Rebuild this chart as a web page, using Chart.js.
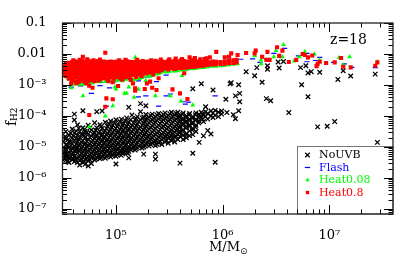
<!DOCTYPE html>
<html>
<head>
<meta charset="utf-8">
<style>
  html, body { margin: 0; padding: 0; background: #fff; }
  canvas { display: block; }
</style>
<script src="https://cdn.jsdelivr.net/npm/chart.js@4/dist/chart.umd.min.js"></script>
</head>
<body>
<canvas id="chart" width="415" height="263"></canvas>
<script>
// All values below are log10(M/Msun), log10(fH2)
const seriesNames = ['NoUVB', 'Flash', 'Heat0.08', 'Heat0.8'];
const seriesColors = ['#000000', '#0000ff', '#00ff00', '#ff0000'];
const xTickLabels = { 5: '10⁵', 6: '10⁶', 7: '10⁷' };
const yTickLabels = { '-1': '0.1', '-2': '0.01', '-3': '10⁻³', '-4': '10⁻⁴', '-5': '10⁻⁵', '-6': '10⁻⁶', '-7': '10⁻⁷' };

// dense black cloud, one list of fH2 per mass column
const noUvbColumns = [
  [4.51, [-4.82, -5.02, -5.2]],
  [4.53, [-4.5, -4.72, -4.93, -5.12, -5.3, -5.43]],
  [4.56, [-4.62, -4.84, -5.0, -5.17, -5.36, -5.5]],
  [4.59, [-4.42, -4.7, -4.9, -5.06, -5.24, -5.41]],
  [4.61, [-3.94, -4.13, -4.55, -4.78, -4.97, -5.13, -5.3, -5.47]],
  [4.64, [-4.28, -4.62, -4.82, -5.02, -5.19, -5.36, -5.5]],
  [4.66, [-4.5, -4.7, -4.9, -5.08, -5.26, -5.44, -5.58]],
  [4.69, [-3.83, -4.38, -4.61, -4.8, -4.98, -5.15, -5.33, -5.5]],
  [4.71, [-4.5, -4.7, -4.88, -5.05, -5.22, -5.4, -5.56]],
  [4.74, [-4.3, -4.58, -4.76, -4.94, -5.12, -5.3, -5.45, -5.61]],
  [4.77, [-4.45, -4.65, -4.84, -5.02, -5.2, -5.36, -5.53]],
  [4.8, [-4.22, -4.54, -4.72, -4.92, -5.1, -5.27, -5.42]],
  [4.82, [-3.86, -4.38, -4.62, -4.8, -4.99, -5.16, -5.33]],
  [4.85, [-4.28, -4.5, -4.7, -4.88, -5.07, -5.24, -5.38]],
  [4.87, [-3.84, -4.4, -4.6, -4.78, -4.96, -5.13, -5.3]],
  [4.9, [-4.2, -4.48, -4.67, -4.85, -5.03, -5.2, -5.36]],
  [4.92, [-4.33, -4.56, -4.75, -4.93, -5.1, -5.27]],
  [4.95, [-4.16, -4.44, -4.63, -4.82, -5.0, -5.18, -5.32]],
  [4.97, [-4.3, -4.52, -4.71, -4.9, -5.07, -5.24]],
  [5.0, [-4.12, -4.4, -4.6, -4.78, -4.97, -5.14, -5.3, -5.55]],
  [5.02, [-4.27, -4.49, -4.68, -4.86, -5.04, -5.2]],
  [5.05, [-4.1, -4.36, -4.56, -4.75, -4.94, -5.12, -5.27]],
  [5.07, [-4.24, -4.45, -4.65, -4.84, -5.02, -5.17]],
  [5.1, [-4.06, -4.33, -4.53, -4.72, -4.91, -5.08, -5.19]],
  [5.12, [-3.72, -4.2, -4.42, -4.62, -4.8, -5.0, -5.14, -5.35]],
  [5.15, [-3.97, -4.3, -4.5, -4.7, -4.88, -5.05]],
  [5.18, [-4.12, -4.38, -4.58, -4.78, -4.97, -5.1]],
  [5.2, [-4.02, -4.26, -4.47, -4.66, -4.85, -5.02]],
  [5.23, [-3.6, -3.86, -4.13, -4.36, -4.56, -4.75, -4.94]],
  [5.26, [-4.03, -4.24, -4.44, -4.64, -4.82, -5.0, -5.23]],
  [5.28, [-3.67, -3.95, -4.13, -4.34, -4.54, -4.72, -4.9]],
  [5.31, [-4.03, -4.22, -4.42, -4.62, -4.8, -4.97]],
  [5.34, [-3.94, -4.12, -4.32, -4.52, -4.7, -4.88]],
  [5.37, [-4.02, -4.2, -4.4, -4.6, -4.8, -4.95, -5.23, -5.39]],
  [5.4, [-3.92, -4.1, -4.3, -4.5, -4.68, -4.86]],
  [5.43, [-4.0, -4.18, -4.38, -4.58, -4.76, -4.92]],
  [5.46, [-3.9, -4.08, -4.28, -4.47, -4.66, -4.84]],
  [5.49, [-3.98, -4.16, -4.36, -4.56, -4.72, -4.88]],
  [5.52, [-3.88, -4.06, -4.25, -4.45, -4.63, -4.8]],
  [5.55, [-3.96, -4.14, -4.34, -4.52, -4.68, -4.84]],
  [5.58, [-3.88, -4.05, -4.23, -4.42, -4.6, -4.76]],
  [5.6, [-3.98, -4.15, -4.32, -4.5, -4.66, -5.52]],
  [5.63, [-3.9, -4.08, -4.24, -4.44, -4.62, -4.76]],
  [5.66, [-4.0, -4.16, -4.34, -4.56, -4.7]],
  [5.69, [-3.92, -4.1, -4.28, -4.48, -4.64]],
  [5.72, [-3.12, -4.02, -4.2, -4.4, -4.6, -5.2]],
  [5.75, [-3.9, -4.1, -4.3, -4.5]],
  [5.78, [-3.95, -4.16, -4.85]],
  [5.8, [-2.96, -3.88, -4.03]],
  [5.82, [-3.98, -4.18, -4.64]],
  [5.84, [-3.7, -3.86, -4.02]],
  [5.86, [-3.92, -4.1, -4.47]],
  [5.89, [-3.84, -4.0, -4.58]],
  [5.91, [-3.16, -3.9, -4.05]],
  [5.93, [-3.82, -3.98, -5.49]],
  [5.96, [-3.88, -4.02]],
  [5.99, [-3.84, -3.94]]
];
// second pass over the cloud, points between the ones above
const noUvbFillColumns = [
  [4.525, [-4.66, -5.07, -5.24, -5.38]],
  [4.548, [-4.77, -4.96, -5.28, -5.45]],
  [4.575, [-4.55, -4.83, -5.11, -5.31]],
  [4.602, [-4.65, -5.03, -5.2, -5.38]],
  [4.627, [-4.48, -4.72, -4.91, -5.09, -5.41]],
  [4.652, [-4.4, -4.77, -4.96, -5.13, -5.32]],
  [4.678, [-4.58, -4.85, -5.03, -5.21, -5.39]],
  [4.703, [-4.44, -4.64, -4.93, -5.11, -5.29, -5.47]],
  [4.728, [-4.53, -4.82, -5.0, -5.17, -5.35]],
  [4.755, [-4.39, -4.69, -4.9, -5.07, -5.25, -5.41]],
  [4.783, [-4.58, -4.78, -4.97, -5.14, -5.31]],
  [4.81, [-4.46, -4.66, -4.86, -5.04, -5.21, -5.38]],
  [4.836, [-4.55, -4.74, -4.93, -5.11, -5.28]],
  [4.861, [-4.34, -4.64, -4.82, -5.01, -5.18, -5.34]],
  [4.885, [-4.52, -4.71, -4.9, -5.08, -5.25]],
  [4.911, [-4.4, -4.6, -4.79, -4.97, -5.14, -5.31]],
  [4.935, [-4.25, -4.49, -4.69, -4.87, -5.05, -5.22]],
  [4.96, [-4.37, -4.57, -4.77, -4.95, -5.12, -5.27]],
  [4.985, [-4.22, -4.46, -4.65, -4.84, -5.03, -5.2]],
  [5.012, [-4.34, -4.54, -4.73, -4.91, -5.09, -5.25]],
  [5.037, [-4.18, -4.43, -4.62, -4.81, -4.99, -5.17]],
  [5.062, [-4.31, -4.5, -4.7, -4.89, -5.07, -5.22]],
  [5.086, [-4.15, -4.39, -4.59, -4.78, -4.96, -5.13]],
  [5.112, [-4.27, -4.47, -4.67, -4.85, -5.04, -5.2]],
  [5.138, [-4.12, -4.36, -4.56, -4.75, -4.93, -5.09]],
  [5.165, [-4.22, -4.44, -4.64, -4.83, -5.0]],
  [5.19, [-4.08, -4.32, -4.52, -4.72, -4.91, -5.06]],
  [5.215, [-4.19, -4.41, -4.61, -4.8, -4.98]],
  [5.245, [-4.06, -4.29, -4.5, -4.69, -4.87, -5.03]],
  [5.27, [-4.18, -4.39, -4.59, -4.77, -4.95]],
  [5.295, [-4.08, -4.28, -4.48, -4.67, -4.85]],
  [5.325, [-3.98, -4.17, -4.37, -4.57, -4.75, -4.92]],
  [5.355, [-4.07, -4.26, -4.46, -4.65, -4.83]],
  [5.385, [-3.97, -4.15, -4.35, -4.55, -4.74, -4.91]],
  [5.415, [-4.05, -4.24, -4.44, -4.63, -4.81]],
  [5.445, [-3.95, -4.13, -4.33, -4.53, -4.71]],
  [5.475, [-4.03, -4.22, -4.42, -4.6, -4.78]],
  [5.505, [-3.93, -4.11, -4.31, -4.5, -4.68]],
  [5.535, [-4.01, -4.19, -4.39, -4.57, -4.72]],
  [5.565, [-3.92, -4.1, -4.29, -4.47, -4.65]],
  [5.595, [-4.03, -4.2, -4.37, -4.55]],
  [5.625, [-3.95, -4.13, -4.3, -4.49]],
  [5.655, [-4.05, -4.21, -4.39, -4.6]],
  [5.685, [-3.97, -4.15, -4.33]],
  [5.715, [-4.07, -4.25, -4.45]],
  [5.745, [-3.96, -4.15, -4.36]],
  [5.775, [-4.05, -4.22]],
  [5.81, [-3.93, -4.1]]
];
// black points away from the cloud
const noUvbOutliers = [
  [6.22, -2.57], [6.30, -2.70], [6.32, -2.44], [6.42, -2.38], [6.42, -2.49], [6.52, -2.26], [6.53, -2.45],
  [6.57, -2.24], [6.73, -2.44], [6.78, -2.38], [6.80, -2.61], [6.83, -2.57], [6.91, -2.59], [7.08, -2.82],
  [7.13, -2.54], [7.20, -2.71], [7.43, -2.65], [6.08, -2.93], [6.07, -2.96], [6.15, -2.99], [6.37, -2.91],
  [6.74, -2.99], [6.12, -3.35], [6.16, -3.27], [6.03, -3.46], [6.16, -3.54], [6.41, -3.44], [6.45, -3.51],
  [6.80, -3.38], [6.15, -3.83], [6.62, -3.89], [6.10, -3.96], [6.12, -4.09], [6.04, -3.89], [6.89, -4.35],
  [6.98, -4.33], [7.05, -4.18], [7.45, -4.85]
];

// red band, one list of fH2 per mass column
const heat08Columns = [
  [4.5, [-2.4, -2.52, -2.62]],
  [4.53, [-2.32, -2.43, -2.54, -2.65, -2.72]],
  [4.56, [-2.28, -2.38, -2.49, -2.6, -2.7, -2.8]],
  [4.59, [-2.26, -2.36, -2.46, -2.57, -2.67, -2.78, -2.86]],
  [4.62, [-2.24, -2.34, -2.45, -2.55, -2.66, -2.76, -2.88]],
  [4.65, [-2.26, -2.36, -2.46, -2.57, -2.67, -2.78, -2.9]],
  [4.68, [-2.21, -2.32, -2.43, -2.54, -2.65, -2.76, -2.86]],
  [4.71, [-2.24, -2.35, -2.46, -2.57, -2.68, -2.79, -2.9]],
  [4.74, [-2.22, -2.33, -2.44, -2.55, -2.66, -2.77, -2.87]],
  [4.77, [-2.24, -2.35, -2.46, -2.57, -2.68, -2.79, -2.84]],
  [4.8, [-2.25, -2.36, -2.47, -2.58, -2.69, -2.8, -2.88]],
  [4.83, [-2.23, -2.34, -2.45, -2.56, -2.67, -2.78]],
  [4.86, [-2.25, -2.36, -2.47, -2.58, -2.69, -2.8]],
  [4.89, [-2.24, -2.35, -2.46, -2.57, -2.68, -2.78]],
  [4.92, [-2.26, -2.37, -2.48, -2.59, -2.7, -2.82]],
  [4.95, [-2.24, -2.35, -2.46, -2.57, -2.68, -2.76]],
  [4.98, [-2.26, -2.37, -2.48, -2.59, -2.7, -2.8]],
  [5.01, [-2.24, -2.35, -2.46, -2.57, -2.68, -2.74]],
  [5.04, [-2.26, -2.37, -2.48, -2.59, -2.7, -2.78]],
  [5.07, [-2.25, -2.36, -2.47, -2.58, -2.68, -2.76]],
  [5.1, [-2.23, -2.34, -2.45, -2.56, -2.67, -2.74]],
  [5.13, [-2.25, -2.36, -2.47, -2.58, -2.68, -2.78]],
  [5.16, [-2.26, -2.37, -2.48, -2.59, -2.68]],
  [5.19, [-2.24, -2.35, -2.46, -2.57, -2.66, -2.74]],
  [5.22, [-2.26, -2.37, -2.48, -2.58, -2.66]],
  [5.25, [-2.23, -2.34, -2.45, -2.55, -2.64]],
  [5.28, [-2.25, -2.36, -2.47, -2.58, -2.63]],
  [5.31, [-2.24, -2.35, -2.46, -2.56, -2.6]],
  [5.34, [-2.26, -2.37, -2.48, -2.58]],
  [5.37, [-2.22, -2.33, -2.44, -2.55]],
  [5.4, [-2.25, -2.36, -2.47, -2.56]],
  [5.43, [-2.24, -2.35, -2.46, -2.52]],
  [5.46, [-2.26, -2.37, -2.47]],
  [5.49, [-2.23, -2.34, -2.45, -2.5]],
  [5.52, [-2.25, -2.36, -2.46]],
  [5.55, [-2.22, -2.33, -2.44, -2.48]],
  [5.58, [-2.24, -2.35, -2.45]],
  [5.61, [-2.2, -2.31, -2.42, -2.46]],
  [5.64, [-2.23, -2.34, -2.44]],
  [5.67, [-2.25, -2.35, -2.43]],
  [5.7, [-2.18, -2.29, -2.39, -2.42]],
  [5.73, [-2.21, -2.32, -2.41]],
  [5.76, [-2.24, -2.34, -2.4]],
  [5.79, [-2.17, -2.28, -2.38]],
  [5.82, [-2.25, -2.33, -2.38]],
  [5.85, [-2.14, -2.26, -2.35]],
  [5.88, [-2.11, -2.27, -2.34]],
  [5.91, [-2.24, -2.33]],
  [5.94, [-1.93, -2.25, -2.33]],
  [5.98, [-2.26, -2.32]],
  [6.02, [-2.11, -2.24, -2.31]],
  [6.06, [-2.09, -2.22, -2.3]],
  [6.1, [-2.2, -2.29]],
  [6.13, [-2.19, -2.27]]
];
const heat08Outliers = [
  [4.90, -1.96], [4.69, -2.09], [4.58, -2.95], [4.75, -3.02], [4.78, -3.09], [4.91, -3.43], [4.97, -3.46],
  [4.90, -3.70], [4.75, -3.97], [4.97, -2.91], [5.02, -3.03], [5.16, -2.95], [5.18, -3.11], [5.18, -3.18],
  [5.27, -3.13], [5.32, -2.89], [5.29, -2.95], [5.40, -2.78], [5.34, -3.09], [5.38, -3.16], [5.53, -3.14],
  [5.60, -3.27], [5.67, -3.45], [5.64, -2.62], [5.69, -2.11], [6.08, -1.98], [6.14, -2.03], [6.22, -1.97],
  [6.31, -1.89], [6.30, -1.98], [6.37, -2.09], [6.42, -1.93], [6.41, -2.19], [6.44, -2.19], [6.51, -1.78],
  [6.56, -1.89], [6.53, -2.06], [6.62, -2.26], [6.69, -2.19], [6.75, -2.0], [6.77, -2.03], [6.80, -2.11],
  [6.84, -2.05], [6.91, -2.25], [6.88, -2.39], [6.89, -2.32], [6.97, -2.29], [7.05, -2.27], [7.11, -2.13],
  [7.13, -2.41], [7.20, -2.43], [7.43, -2.38], [7.45, -2.27],
  // ragged edges of the band
  [4.6, -2.2], [4.66, -2.19], [4.73, -2.17], [4.79, -2.2], [4.85, -2.18], [5.03, -2.2], [5.09, -2.19], [5.2, -2.19],
  [5.33, -2.2], [5.42, -2.18], [5.5, -2.17], [5.56, -2.15], [5.62, -2.16], [5.74, -2.13], [5.83, -2.16],
  [4.63, -2.94], [4.72, -2.94], [4.84, -2.85], [4.93, -2.88], [5.06, -2.83], [5.14, -2.84], [5.24, -2.72], [5.35, -2.66]
];

const heat008Points = [
  [4.5, -2.48], [4.52, -2.68], [4.55, -2.8], [4.58, -2.9], [4.62, -2.23], [4.62, -2.97], [4.66, -2.98], [4.7, -2.98],
  [4.74, -2.95], [4.78, -2.94], [4.82, -2.89], [4.86, -2.88], [4.9, -2.89], [4.94, -2.86], [4.98, -2.87], [5.02, -2.84],
  [5.06, -2.87], [5.1, -2.82], [5.14, -2.87], [5.18, -2.82], [5.22, -2.79], [5.26, -2.74], [5.3, -2.7], [5.34, -2.7],
  [5.38, -2.65], [5.42, -2.6], [5.46, -2.57], [5.5, -2.56], [5.54, -2.55], [5.58, -2.54], [5.62, -2.52], [5.66, -2.5],
  [5.7, -2.48], [5.74, -2.47], [5.78, -2.45], [5.82, -2.44], [5.86, -2.42], [5.9, -2.4], [5.94, -2.4], [5.98, -2.38],
  [6.02, -2.37], [6.06, -2.35], [6.1, -2.33], [6.14, -2.32],
  [4.6, -2.96], [4.68, -2.93], [4.76, -2.9], [4.84, -2.9], [4.92, -2.85], [5.0, -2.85], [5.08, -2.82], [5.16, -2.84],
  [5.24, -2.76], [5.32, -2.72], [5.4, -2.63], [5.48, -2.58], [5.56, -2.54], [5.64, -2.51], [5.72, -2.47], [5.8, -2.44],
  [4.58, -3.09], [4.69, -3.35], [5.0, -3.13], [4.97, -3.67], [4.90, -4.0], [4.75, -4.35], [5.10, -3.27], [5.17, -3.40],
  [5.37, -3.35], [5.51, -3.35], [5.61, -3.52], [5.72, -3.65], [5.08, -3.27], [4.99, -3.07], [5.12, -3.07], [5.21, -3.14],
  [5.28, -2.86], [5.62, -2.70], [5.18, -2.11], [6.57, -1.70], [6.50, -1.89], [6.30, -2.06], [6.36, -2.19], [6.36, -2.32],
  [6.48, -2.09], [6.56, -2.09], [6.77, -1.93], [6.72, -2.09], [6.86, -2.0], [6.67, -2.23], [6.91, -2.19], [7.09, -2.12],
  [7.19, -2.09], [7.13, -2.35], [7.45, -2.25]
];

const flashPoints = [
  [4.58, -3.07], [4.77, -3.27], [4.94, -3.09], [4.91, -3.68], [4.85, -3.02], [5.21, -3.38], [5.28, -3.35], [5.40, -3.68],
  [5.47, -2.68], [5.36, -2.65], [5.63, -3.54], [5.51, -3.29], [5.82, -2.41], [5.10, -2.75], [5.21, -2.87], [5.38, -2.89],
  [4.98, -2.9], [4.67, -3.03], [5.47, -3.35], [5.65, -3.62], [5.68, -3.55], [5.93, -3.35], [6.17, -2.17], [6.28, -2.16],
  [6.48, -1.98], [6.58, -1.82], [6.41, -2.16], [6.35, -2.27], [6.71, -2.06], [6.79, -1.98], [6.79, -2.25], [6.87, -2.21],
  [6.91, -2.11], [7.04, -2.27], [7.14, -2.32], [7.21, -2.43], [7.43, -2.44], [4.74, -3.0], [4.88, -2.92], [5.04, -2.86],
  [5.16, -2.82], [5.3, -2.74], [5.55, -2.56], [5.7, -2.49], [5.9, -2.4], [6.0, -2.38], [6.12, -2.33]
];

const toPoints = (list) => list.map((p) => ({ x: 10 ** p[0], y: 10 ** p[1] }));
const flatten = (columns) => columns.flatMap((c) => c[1].map((f) => [c[0], f]));

// ticks, frame, legend and labels that Chart.js has no option for
const paperFrame = {
  id: 'paperFrame',
  afterDatasetsDraw(chart) {
    const ctx = chart.ctx;
    const a = chart.chartArea;
    ctx.save();

    // legend box
    ctx.fillStyle = '#fff';
    ctx.fillRect(297.5, 146.5, a.right - 297.5, a.bottom - 146.5);
    ctx.strokeStyle = '#777';
    ctx.lineWidth = 1;
    ctx.strokeRect(297.5, 146.5, a.right - 297.5, a.bottom - 146.5);
    const rows = [155, 167.5, 180, 192.5];
    ctx.textAlign = 'left';
    ctx.textBaseline = 'middle';
    ctx.font = '11px "DejaVu Serif"';
    seriesNames.forEach((name, i) => {
      const style = chart.data.datasets[i];
      ctx.fillStyle = seriesColors[i];
      ctx.strokeStyle = seriesColors[i];
      ctx.lineWidth = style.borderWidth || 1;
      ctx.fillText(name, 319, rows[i] + 0.5);
      Chart.helpers.drawPoint(ctx, {
        pointStyle: style.pointStyle,
        radius: style.legendRadius,
        borderWidth: style.borderWidth,
        rotation: 0
      }, 307.5, rows[i]);
    });

    // annotation and axis titles
    ctx.fillStyle = '#000';
    ctx.font = '14px "DejaVu Serif"';
    ctx.fillText('z=18', 330, 40.5);
    ctx.font = '13px "DejaVu Serif"';
    ctx.fillText('M/M', 209, 248);
    const w = ctx.measureText('M/M').width;
    ctx.font = '9px "DejaVu Sans"';
    ctx.fillText('⊙', 209 + w, 252);
    ctx.translate(12, 126);
    ctx.rotate(-Math.PI / 2);
    ctx.font = '14px "DejaVu Serif"';
    ctx.fillText('f', 0, 0);
    ctx.font = '9px "DejaVu Serif"';
    ctx.fillText('H2', 5, 3);
    ctx.restore();
  },
  afterDraw(chart) {
    const ctx = chart.ctx;
    const a = chart.chartArea;
    ctx.save();

    // inward ticks on all four sides
    ctx.strokeStyle = '#000';
    ctx.lineWidth = 1;
    const segment = (x1, y1, x2, y2) => {
      ctx.beginPath();
      ctx.moveTo(x1, y1);
      ctx.lineTo(x2, y2);
      ctx.stroke();
    };
    const decadeTicks = (scale, mark) => {
      const first = Math.floor(Math.log10(scale.min));
      const last = Math.ceil(Math.log10(scale.max));
      for (let e = first; e <= last; e++) {
        for (let m = 1; m <= 9; m++) {
          const v = m * Math.pow(10, e);
          if (v < scale.min || v > scale.max * 1.0001) continue;
          mark(Math.round(scale.getPixelForValue(v)) + 0.5, m === 1 ? 9 : 4.5);
        }
      }
    };
    decadeTicks(chart.scales.x, (px, len) => {
      segment(px, a.bottom, px, a.bottom - len);
      segment(px, a.top, px, a.top + len);
    });
    decadeTicks(chart.scales.y, (py, len) => {
      segment(a.left, py, a.left + len, py);
      segment(a.right, py, a.right - len, py);
    });
    ctx.strokeStyle = '#222';
    ctx.lineWidth = 1.3;
    ctx.strokeRect(a.left, a.top, a.right - a.left, a.bottom - a.top);
    ctx.restore();
  }
};

function logTickLabel(labels) {
  return (value) => {
    const lg = Math.log10(value);
    if (Math.abs(lg - Math.round(lg)) > 1e-6) return '';
    return labels[Math.round(lg)] || '';
  };
}

new Chart(document.getElementById('chart'), {
  type: 'scatter',
  data: {
    datasets: [
      { label: seriesNames[0], data: toPoints(flatten(noUvbColumns).concat(flatten(noUvbFillColumns), noUvbOutliers)), order: 4,
        pointStyle: 'crossRot', pointRadius: 3.2, legendRadius: 3.2, borderWidth: 1.3, borderColor: seriesColors[0], backgroundColor: seriesColors[0] },
      { label: seriesNames[1], data: toPoints(flashPoints), order: 3,
        pointStyle: 'line', pointRadius: 2.6, legendRadius: 2.6, borderWidth: 1.2, borderColor: seriesColors[1], backgroundColor: seriesColors[1] },
      { label: seriesNames[2], data: toPoints(heat008Points), order: 2,
        pointStyle: 'triangle', pointRadius: 2.8, legendRadius: 2.4, borderWidth: 0, borderColor: seriesColors[2], backgroundColor: seriesColors[2] },
      { label: seriesNames[3], data: toPoints(flatten(heat08Columns).concat(heat08Outliers)), order: 1,
        pointStyle: 'rect', pointRadius: 2.9, legendRadius: 2.4, borderWidth: 0, borderColor: seriesColors[3], backgroundColor: seriesColors[3] }
    ]
  },
  options: {
    responsive: false,
    animation: false,
    layout: { autoPadding: false, padding: { top: 23, right: 22, left: 0, bottom: 0 } },
    plugins: { legend: { display: false }, tooltip: { enabled: false } },
    scales: {
      x: {
        type: 'logarithmic',
        min: 31550,
        max: 39500000,
        grid: { display: false },
        border: { display: false },
        afterFit(scale) { scale.height = 49; },
        ticks: {
          autoSkip: false, maxRotation: 0, minRotation: 0, padding: 6,
          color: '#000', font: { family: '"DejaVu Serif"', size: 13 },
          callback: logTickLabel(xTickLabels)
        }
      },
      y: {
        type: 'logarithmic',
        min: 6.9e-8,
        max: 0.1,
        grid: { display: false },
        border: { display: false },
        afterFit(scale) { scale.width = 62.5; },
        ticks: {
          autoSkip: false, padding: 8,
          color: '#000', font: { family: '"DejaVu Serif"', size: 13 },
          callback: logTickLabel(yTickLabels)
        }
      }
    }
  },
  plugins: [paperFrame]
});
</script>
</body>
</html>
